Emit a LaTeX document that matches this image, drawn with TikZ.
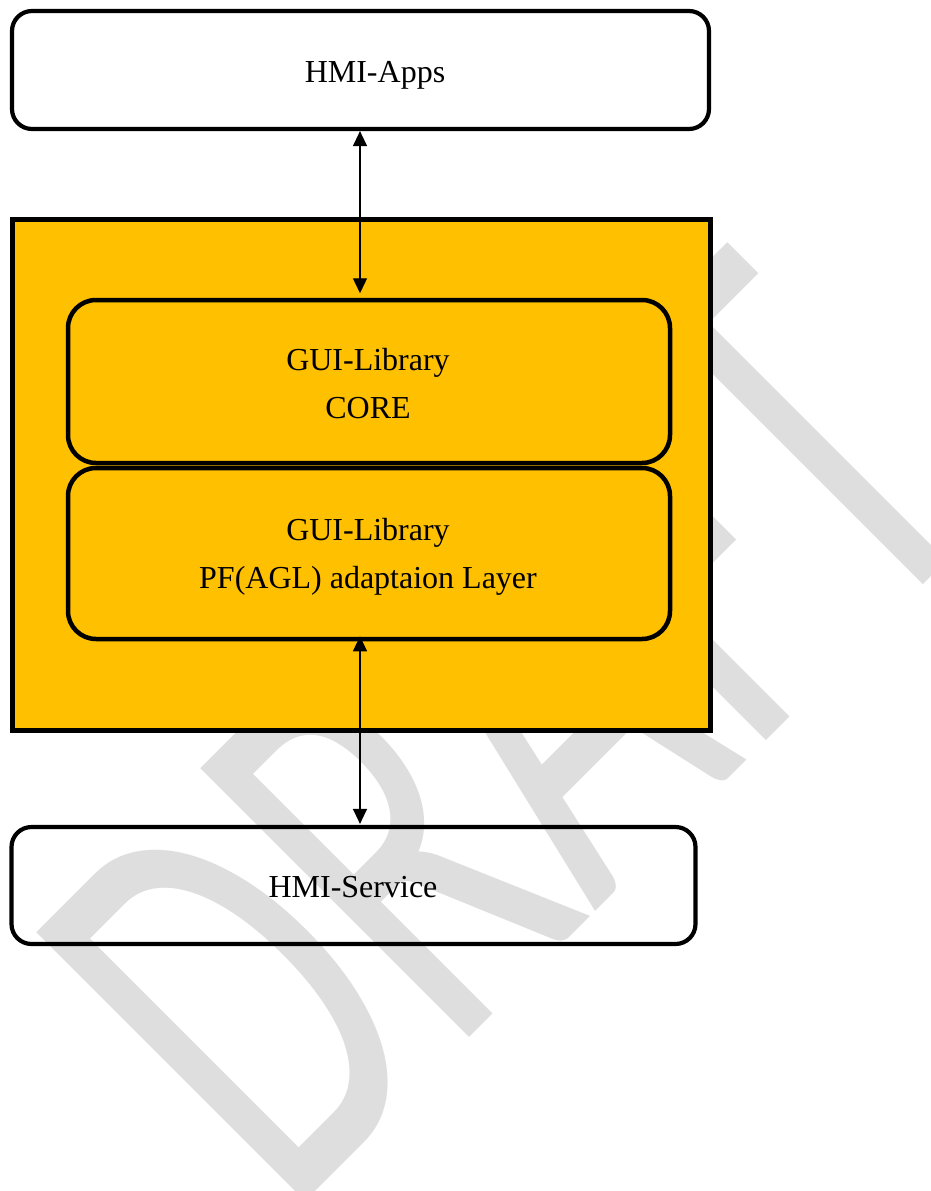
\documentclass[tikz,border=0pt]{standalone}
\usepackage{fontspec}
\setmainfont{Liberation Serif}
\newfontfamily\wmfont{Carlito}
\usetikzlibrary{arrows.meta}
\definecolor{gold}{HTML}{FFC000}
\definecolor{wmgray}{RGB}{222,222,222}
\begin{document}
\begin{tikzpicture}[x=1pt,y=1pt,
  txt/.style={font=\fontsize{32}{38}\selectfont, anchor=base, inner sep=0pt},
  whitebox/.style={draw=black, line width=4.2pt, rounded corners=20pt, inner sep=0pt},
  innerbox/.style={draw=black, fill=gold, line width=4.5pt, rounded corners=28pt, inner sep=0pt},
  goldbox/.style={draw=black, fill=gold, line width=5pt, inner sep=0pt},
  link/.style={line width=1.3pt, {Triangle[length=15pt,width=14pt]}-{Triangle[length=15pt,width=14pt]}},
]
\useasboundingbox (0,0) rectangle (930,-1191);
\fill[white] (0,0) rectangle (930,-1191);
% watermark
\begin{scope}[shift={(643.5,-863.5)}, rotate=45, yscale=1.58]
  \node[transform shape, anchor=base, inner sep=0pt, text=wmgray,
        font=\wmfont\fontsize{375}{375}\selectfont] (wm) at (0,0) {DRAFT};
\end{scope}
% boxes
\node[whitebox, minimum width=697pt, minimum height=118pt] (apps) at (360.5,-70) {};
\node[goldbox, minimum width=698pt, minimum height=511pt] (gui) at (361,-474.5) {};
\node[innerbox, minimum width=602pt, minimum height=163pt] (core) at (369,-381.5) {};
\node[innerbox, minimum width=602pt, minimum height=171pt] (pf) at (369,-553.5) {};
\node[whitebox, minimum width=684pt, minimum height=117pt] (svc) at (353.5,-885.5) {};
% texts
\node[txt] (tapps) at (375,-82) {HMI-Apps};
\node[txt] (tcore1) at (368,-370) {GUI-Library};
\node[txt] (tcore2) at (368,-418) {CORE};
\node[txt] (tpf1) at (368,-540) {GUI-Library};
\node[txt] (tpf2) at (368,-588) {PF(AGL) adaptaion Layer};
\node[txt] (tsvc) at (353,-897) {HMI-Service};
% connectors
\draw[link, shorten >=4.5pt] ([xshift=-0.5pt]apps.south) -- ([xshift=-0.5pt]apps.south |- core.north);
\draw[link, shorten <=-5pt, shorten >=1pt] ([xshift=-0.5pt]apps.south |- pf.south) -- ([xshift=-0.5pt]apps.south |- svc.north);
\end{tikzpicture}
\end{document}
